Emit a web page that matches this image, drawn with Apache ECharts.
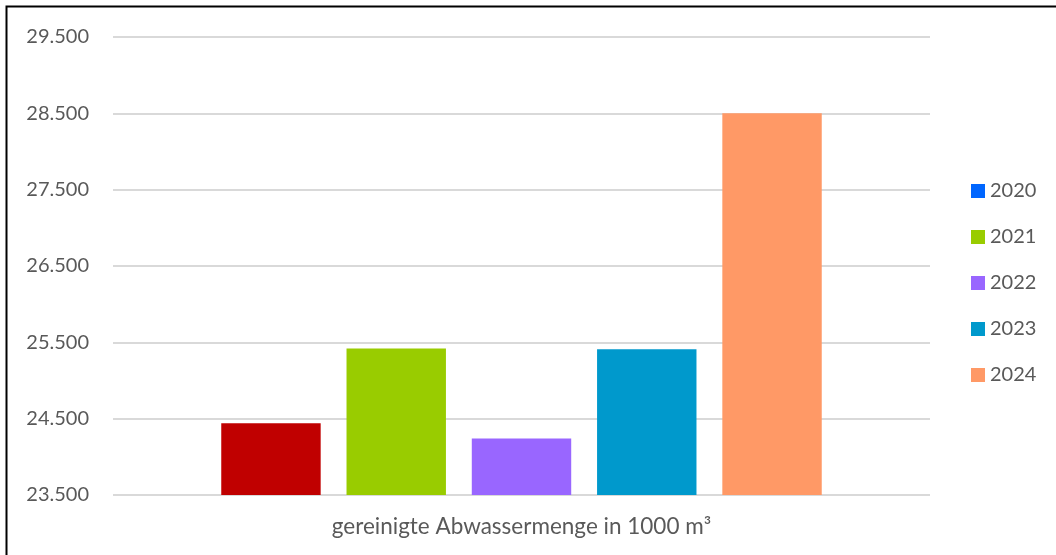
<!DOCTYPE html>
<html>
<head>
<meta charset="utf-8">
<script src="https://cdn.jsdelivr.net/npm/echarts@6/dist/echarts.min.js"></script>
<style>
html,body{margin:0;padding:0;background:#fff;}
#c{width:1056px;height:555px;}
</style>
</head>
<body>
<div id="c"></div>
<script>
const categories = ['gereinigte Abwassermenge in 1000 m³'];
const years = ['2020', '2021', '2022', '2023', '2024'];
const values = [24440, 25420, 24240, 25410, 28500];
const barColors = ['#C00000', '#99CC00', '#9966FF', '#0099CC', '#FF9966'];
const legendColors = ['#0066FF', '#99CC00', '#9966FF', '#0099CC', '#FF9966'];
const yTicks = { min: 23500, max: 29500, step: 1000 };

const FONT = 'Lato';
const chart = echarts.init(document.getElementById('c'), null, { renderer: 'canvas' });

const series = years.map((y, i) => ({
  name: y,
  type: 'bar',
  data: [values[i]],
  itemStyle: { color: barColors[i] },
  barGap: '26%',
  barCategoryGap: '26.5%',
  emphasis: { disabled: true }
}));

chart.setOption({
  animation: false,
  backgroundColor: '#fff',
  textStyle: { fontFamily: FONT },
  graphic: [{
    type: 'rect',
    shape: { x: 6.5, y: 6.5, width: 1100, height: 600 },
    style: { fill: 'none', stroke: '#000', lineWidth: 2 },
    silent: true
  }],
  grid: { left: 113, right: 126, top: 37, bottom: 60, containLabel: false },
  legend: {
    orient: 'vertical',
    left: 966,
    top: 176,
    icon: 'rect',
    itemWidth: 14,
    itemHeight: 14,
    itemGap: 26,
    textStyle: { color: '#595959', fontSize: 20, lineHeight: 20, fontFamily: FONT },
    data: years.map((y, i) => ({ name: y, itemStyle: { color: legendColors[i] } }))
  },
  xAxis: {
    type: 'category',
    data: categories,
    axisLine: { show: false },
    axisTick: { show: false },
    axisLabel: { color: '#595959', fontSize: 22.5, margin: 20, fontFamily: FONT }
  },
  yAxis: {
    type: 'value',
    min: yTicks.min,
    max: yTicks.max,
    interval: yTicks.step,
    axisLine: { show: false },
    axisTick: { show: false },
    splitLine: { lineStyle: { color: '#D9D9D9', width: 2 } },
    axisLabel: {
      color: '#595959', fontSize: 20, margin: 24, fontFamily: FONT,
      formatter: v => v.toLocaleString('de-DE')
    }
  },
  series: series
});
</script>
</body>
</html>
